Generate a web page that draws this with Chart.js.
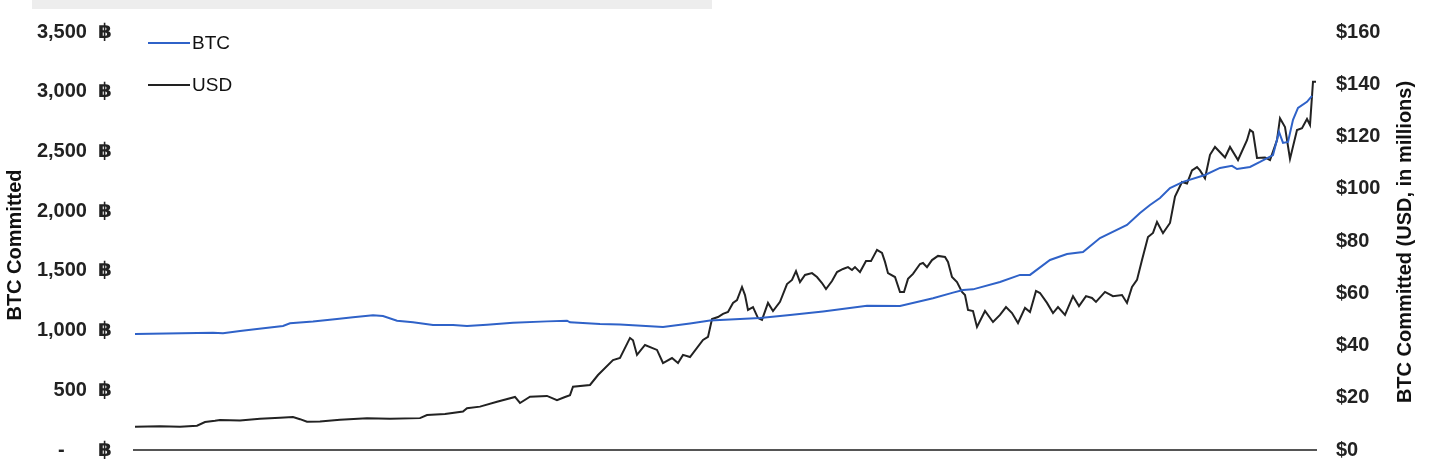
<!DOCTYPE html>
<html>
<head>
<meta charset="utf-8">
<script src="https://cdn.jsdelivr.net/npm/chart.js@4/dist/chart.umd.min.js"></script>
<style>
  html, body { margin: 0; padding: 0; background: #fff; }
  .wrap { position: relative; width: 1429px; height: 462px; }
  .topbar { position: absolute; left: 32px; top: 0; width: 680px; height: 9px; background: #ededed; }
  canvas { position: absolute; left: 0; top: 0; }
</style>
</head>
<body>
<div class="wrap">
  <div class="topbar"></div>
  <canvas id="chart" width="1429" height="462"></canvas>
</div>
<script>
// time index and values
const btcT = [1, 79, 89, 106, 123, 149, 156, 179, 203, 219, 239, 249, 263, 279, 299, 319, 333, 353, 379, 413, 433, 436, 466, 486,
  529, 556, 576, 626, 656, 689, 733, 766, 799, 819, 829, 839, 866, 886, 896, 916, 933, 949, 966, 993, 1006, 1016, 1026, 1036,
  1049, 1071, 1086, 1098, 1103, 1116, 1126, 1139, 1145, 1149, 1154, 1159, 1164, 1173, 1178];
const btcValues = [971, 982, 977, 997, 1013, 1038, 1061, 1075, 1097, 1111, 1128, 1122, 1083, 1069, 1047, 1047, 1038, 1049, 1066, 1077, 1083, 1069, 1055, 1050,
  1030, 1060, 1085, 1105, 1130, 1160, 1208, 1206, 1270, 1318, 1340, 1345, 1407, 1466, 1466, 1591, 1641, 1658, 1775, 1884, 1985, 2052, 2110, 2194,
  2245, 2303, 2362, 2379, 2353, 2370, 2412, 2470, 2663, 2571, 2580, 2764, 2864, 2915, 2965];

const usdT = [1, 26, 46, 63, 71, 81, 86, 106, 126, 146, 159, 166, 173, 186, 206, 233, 256, 286, 293, 311, 329, 333, 346, 363, 381, 386,
  396, 413, 423, 431, 436, 439, 456, 464, 479, 486, 496, 499, 503, 511, 523, 529, 538, 544, 549, 556, 569, 574, 578, 584, 589, 594,
  599, 603, 608, 611, 614, 619, 624, 628, 634, 639, 646, 653, 658, 662, 666, 671, 678, 683, 688, 692, 698, 703, 709, 714, 718, 721,
  726, 732, 737, 743, 748, 751, 754, 761, 766, 770, 774, 779, 786, 789, 793, 798, 804, 811, 814, 818, 823, 828, 831, 834, 839, 843,
  851, 859, 866, 872, 878, 884, 891, 896, 902, 906, 913, 919, 924, 931, 939, 945, 952, 958, 962, 971, 979, 988, 993, 998, 1003, 1008,
  1014, 1019, 1023, 1029, 1036, 1041, 1048, 1053, 1058, 1063, 1066, 1071, 1076, 1081, 1091, 1096, 1104, 1113, 1116, 1119, 1123, 1131,
  1136, 1143, 1146, 1151, 1156, 1163, 1168, 1173, 1176, 1179, 1182];
const usdValues = [8.9, 9.1, 8.9, 9.3, 10.7, 11.2, 11.5, 11.3, 12.0, 12.3, 12.6, 11.8, 10.8, 10.9, 11.6, 12.2, 12.0, 12.2, 13.4, 13.8, 14.7, 16.0, 16.6, 18.5, 20.3, 18.0,
  20.4, 20.7, 19.1, 20.3, 21.0, 24.2, 24.9, 28.7, 34.4, 35.2, 42.9, 42.0, 36.4, 40.2, 38.3, 33.3, 35.2, 33.3, 36.4, 35.6, 42.1, 43.3, 50.1, 50.9, 52.1, 52.8,
  56.3, 57.4, 62.4, 59.3, 53.6, 54.7, 50.5, 49.8, 56.3, 53.2, 56.7, 63.5, 65.1, 68.5, 64.3, 67.0, 67.7, 66.2, 63.9, 61.6, 64.7, 68.1, 69.3, 70.0, 68.9, 70.0,
  68.1, 72.3, 72.3, 76.6, 75.4, 72.0, 67.7, 66.2, 60.5, 60.5, 65.5, 67.4, 71.2, 71.6, 70.0, 72.7, 74.3, 73.9, 72.0, 66.2, 64.3, 60.5, 59.3, 53.6, 53.2, 47.1,
  53.2, 49.0, 51.7, 54.7, 52.4, 48.6, 54.4, 52.8, 60.9, 60.1, 56.3, 52.4, 54.7, 51.7, 58.9, 55.1, 58.9, 58.2, 56.7, 60.5, 58.9, 59.3, 56.3, 62.4, 65.1, 72.7,
  81.5, 83.1, 87.3, 83.0, 86.9, 97.0, 102.6, 102.0, 107.0, 108.3, 107.0, 104.0, 113.0, 116.0, 112.0, 116.0, 111.0, 118.6, 122.5, 121.7, 111.8, 112.0,
  111.0, 118.6, 127.0, 123.6, 111.4, 122.5, 123.2, 126.7, 124.4, 141.0, 141.0];

const seriesNames = ["BTC", "USD"];
const seriesColors = ["#2f62c8", "#222222"];
const leftTitle = "BTC Committed";
const rightTitle = "BTC Committed (USD, in millions)";

const FONT = "'Liberation Sans', Arial, 'DejaVu Sans', sans-serif";

const zip = (t, v) => t.map((x, i) => ({ x: x, y: v[i] }));

// draws the vertical legend and both axis titles (reading bottom to top)
const decorations = {
  id: "decorations",
  afterDraw(chart) {
    const ctx = chart.ctx;
    const area = chart.chartArea;
    ctx.save();
    chart.data.datasets.forEach((ds, i) => {
      const y = area.top + 11 + i * 42;
      ctx.strokeStyle = ds.borderColor;
      ctx.lineWidth = 2;
      ctx.beginPath();
      ctx.moveTo(area.left + 14, y);
      ctx.lineTo(area.left + 56, y);
      ctx.stroke();
      ctx.fillStyle = "#111";
      ctx.font = "19px " + FONT;
      ctx.textAlign = "left";
      ctx.textBaseline = "middle";
      ctx.fillText(ds.label, area.left + 58, y + 1);
    });
    ctx.restore();

    const midY = (area.top + area.bottom) / 2;
    const title = (text, x, y) => {
      ctx.save();
      ctx.font = "bold 20px " + FONT;
      ctx.fillStyle = "#111";
      ctx.textAlign = "center";
      ctx.textBaseline = "middle";
      ctx.translate(x, y);
      ctx.rotate(-Math.PI / 2);
      ctx.fillText(text, 0, 0);
      ctx.restore();
    };
    title(leftTitle, 15, midY + 4);
    title(rightTitle, 1405, midY + 1);
  }
};

// invisible tick marks give the label gap without extra layout padding
const hiddenTicks = (len) => ({ display: true, drawOnChartArea: false, drawTicks: true, tickLength: len, color: "transparent" });

new Chart(document.getElementById("chart"), {
  type: "line",
  data: {
    datasets: [
      { label: seriesNames[0], data: zip(btcT, btcValues), yAxisID: "y", borderColor: seriesColors[0], borderWidth: 2, pointRadius: 0, tension: 0 },
      { label: seriesNames[1], data: zip(usdT, usdValues), yAxisID: "y1", borderColor: seriesColors[1], borderWidth: 2, pointRadius: 0, tension: 0 }
    ]
  },
  options: {
    responsive: false,
    animation: false,
    layout: { padding: { top: 32, bottom: 0, left: 0, right: 0 } },
    plugins: { legend: { display: false }, tooltip: { enabled: false } },
    scales: {
      x: {
        type: "linear",
        min: 0,
        max: 1182,
        ticks: { display: false },
        grid: { display: false, drawTicks: false },
        border: { display: true, color: "#555", width: 2 },
        afterFit: (s) => { s.height = 12; }
      },
      y: {
        position: "left",
        min: 0,
        max: 3500,
        afterFit: (s) => { s.width = 134; },
        grid: hiddenTicks(22),
        border: { display: false },
        ticks: {
          stepSize: 500,
          padding: 0,
          color: "#222",
          font: { family: FONT, size: 20, weight: "bold" },
          callback: (v) => v === 0 ? "-      \u0E3F" : v.toLocaleString("en-US") + "  \u0E3F"
        }
      },
      y1: {
        position: "right",
        min: 0,
        max: 160,
        afterFit: (s) => { s.width = 113; },
        grid: hiddenTicks(20),
        border: { display: false },
        ticks: {
          stepSize: 20,
          padding: 0,
          color: "#222",
          font: { family: FONT, size: 20, weight: "bold" },
          callback: (v) => "$" + v
        }
      }
    }
  },
  plugins: [decorations]
});
</script>
</body>
</html>
